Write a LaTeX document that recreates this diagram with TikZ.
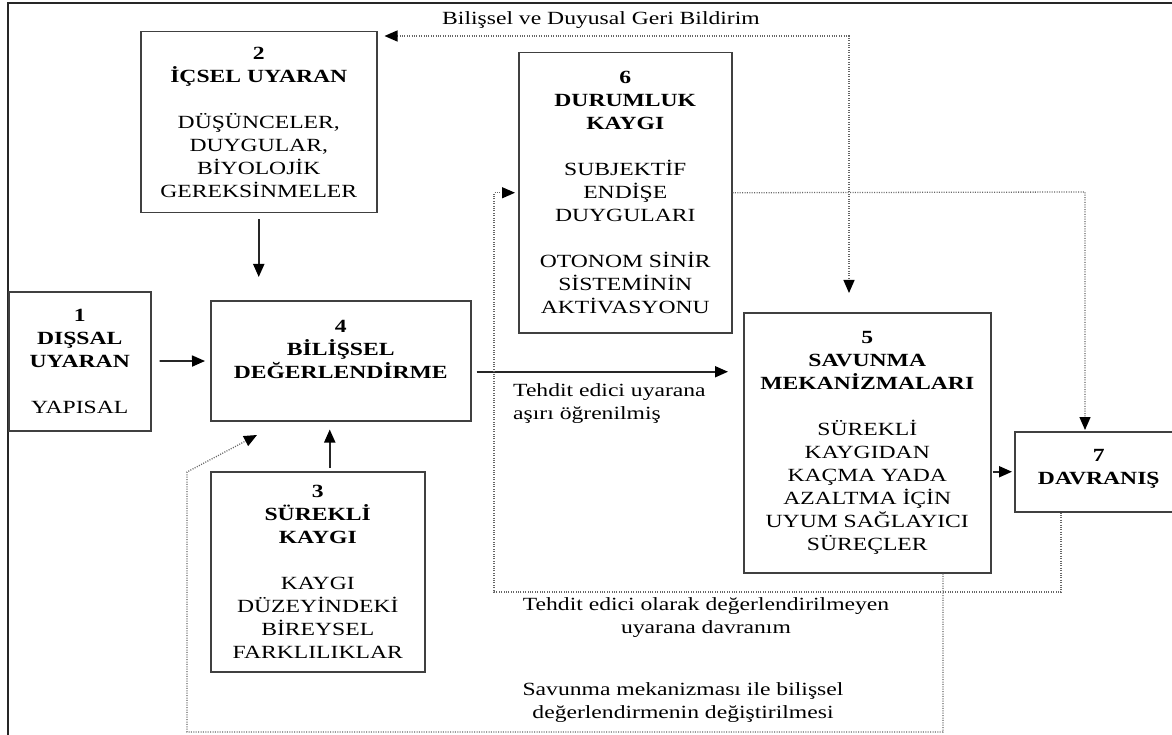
\documentclass[tikz,border=0pt]{standalone}
\usepackage{fontspec}
\setmainfont{Liberation Serif}[FakeStretch=1.27]
\usetikzlibrary{arrows.meta}
\begin{document}
\begin{tikzpicture}[x=1pt,y=-1pt,
  every node/.style={font=\fontsize{18.6}{23}\selectfont, text=black},
  box/.style={draw=black!75, line width=1.5pt, align=center, inner sep=0pt, anchor=north west},
  lbl/.style={align=center, inner sep=0pt},
  tipa/.style={-{Triangle[length=13pt,width=11pt,color=black]}},
  tipb/.style={{Triangle[length=13pt,width=11pt,color=black]}-{Triangle[length=13pt,width=11pt,color=black]}},
  solidarrow/.style={draw=black!85, line width=1.8pt, tipa},
  dotline/.style={draw=black!60, line width=1.3pt, dash pattern=on 1pt off 1.4pt}
]
\clip (0,0) rectangle (1172,735);
% outer frame (partly visible)
\draw[line width=2pt, black!85] (8,740) -- (8,3) -- (1180,3);

% boxes
\node[box, minimum width=142, minimum height=139] (b1) at (8,291)
  {\textbf{1}\\\textbf{DIŞSAL}\\\textbf{UYARAN}\\[23pt]YAPISAL};
\node[box, minimum width=236, minimum height=181] (b2) at (140,31)
  {\textbf{2}\\\textbf{İÇSEL UYARAN}\\[23pt]DÜŞÜNCELER,\\DUYGULAR,\\BİYOLOJİK\\GEREKSİNMELER};
\node[box, minimum width=214, minimum height=200] (b3) at (210,471)
  {\textbf{3}\\\textbf{SÜREKLİ}\\\textbf{KAYGI}\\[23pt]KAYGI\\DÜZEYİNDEKİ\\BİREYSEL\\FARKLILIKLAR};
\node[box, minimum width=260, minimum height=120] (b4) at (210,300)
  {\textbf{4}\\\textbf{BİLİŞSEL}\\\textbf{DEĞERLENDİRME}\\\phantom{X}};
\node[box, minimum width=247, minimum height=260] (b5) at (743,312)
  {\textbf{5}\\\textbf{SAVUNMA}\\\textbf{MEKANİZMALARI}\\[23pt]SÜREKLİ\\KAYGIDAN\\KAÇMA YADA\\AZALTMA İÇİN\\UYUM SAĞLAYICI\\SÜREÇLER};
\node[box, minimum width=213, minimum height=280] (b6) at (518,52)
  {\textbf{6}\\\textbf{DURUMLUK}\\\textbf{KAYGI}\\[23pt]SUBJEKTİF\\ENDİŞE\\DUYGULARI\\[23pt]OTONOM SİNİR\\SİSTEMİNİN\\AKTİVASYONU};
\node[box, minimum width=168, minimum height=80] (b7) at (1014,431)
  {\textbf{7}\\\textbf{DAVRANIŞ}\\[-14pt]\phantom{X}};

% solid connectors
\draw[solidarrow, shorten <=8pt, shorten >=5pt] (b1) -- (b4);
\draw[solidarrow, shorten <=6pt, shorten >=23pt] (b2.south) -- (b2.south |- b4.north);
\coordinate (p34) at ([xshift=12pt]b3.north);
\draw[solidarrow, shorten <=3pt, shorten >=8pt] (p34) -- (p34 |- b4.south);
\coordinate (p45) at ([yshift=-11pt]b4.east);
\draw[solidarrow, shorten <=5pt, shorten >=15pt] (p45) -- (p45 -| b5.west);
\draw[solidarrow, shorten <=1pt, shorten >=2pt] (b5.east |- b7.west) -- (b7.west);

% dotted connectors
\coordinate (fb) at (849,36);
\draw[dotline, tipb, shorten <=7pt, shorten >=19pt] (b2.north east |- fb) -- (fb) -- (fb |- b5.north);
\coordinate (c1) at (1085,192);
\draw[dotline, tipa, shorten >=1pt] (b6.east) -- (c1) -- (c1 |- b7.north);
\coordinate (c2) at (1061,592);
\coordinate (c3) at (494,592);
\draw[dotline, tipa, shorten >=3pt] (c2 |- b7.south) -- (c2) -- (c3) -- (c3 |- b6.west) -- (b6.west);
\coordinate (c4) at (943,732);
\coordinate (c5) at (187,732);
\coordinate (c6) at (187,472);
\coordinate (c7) at (257,435);
\draw[dotline, tipa] (c4 |- b5.south) -- (c4) -- (c5) -- (c6) -- (c7);

% labels
\node[lbl] (l1) at (601,20) {Bilişsel ve Duyusal Geri Bildirim};
\node[lbl, align=left, anchor=west] (l2) at (513,404) {Tehdit edici uyarana\\aşırı öğrenilmiş};
\node[lbl] (l3) at (706,618) {Tehdit edici olarak değerlendirilmeyen\\uyarana davranım};
\node[lbl] (l4) at (683,703) {Savunma mekanizması ile bilişsel\\değerlendirmenin değiştirilmesi};
\end{tikzpicture}
\end{document}
